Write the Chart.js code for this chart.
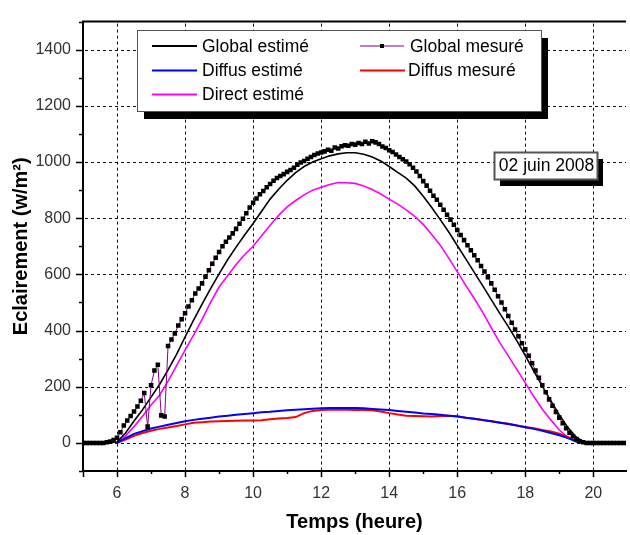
<!DOCTYPE html>
<html>
<head>
<meta charset="utf-8">
<script src="https://cdn.jsdelivr.net/npm/chart.js@4/dist/chart.umd.min.js"></script>
<style>
  html, body { margin: 0; padding: 0; background: #fff; }
  #wrap { width: 630px; height: 535px; }
</style>
</head>
<body>
<div id="wrap"><canvas id="chart" width="630" height="535"></canvas></div>
<script>
// heures des séries estimées (et du diffus mesuré)
const estT = [5, 5.5,
  6, 6.25, 6.5, 6.75, 7, 7.25, 7.5, 7.75, 8, 8.25, 8.5, 8.75,
  9, 9.25, 9.5, 9.75, 10, 10.25, 10.5, 10.75, 11, 11.25, 11.5, 11.75,
  12, 12.25, 12.5, 12.75, 13, 13.25, 13.5, 13.75, 14, 14.25, 14.5, 14.75,
  15, 15.25, 15.5, 15.75, 16, 16.25, 16.5, 16.75, 17, 17.25, 17.5, 17.75,
  18, 18.25, 18.5, 18.75, 19, 19.25, 19.5, 19.75, 20, 21];

const globalEstime = [0, 0,
  3, 35, 78, 118, 163, 208, 260, 315, 377, 437, 494, 549,
  602, 652, 697, 740, 781, 825, 868, 903, 935, 962, 984, 1000,
  1012, 1022, 1029, 1033, 1033, 1028, 1018, 1004, 984, 963, 943, 915,
  878, 838, 795, 751, 703, 655, 607, 559, 510, 461, 414, 364,
  311, 256, 202, 150, 100, 55, 20, 2, 0, 0];

const directEstime = [null, null,
  0, 25, 58, 95, 135, 170, 220, 275, 330, 384, 440, 500,
  555, 595, 635, 670, 700, 738, 775, 810, 840, 863, 883, 900,
  910, 920, 927, 926, 924, 915, 902, 886, 868, 850, 830, 807,
  778, 742, 704, 658, 610, 561, 514, 465, 410, 357, 310, 262,
  214, 165, 120, 82, 46, 20, 3, 0, null, null];

const diffusEstime = [null, null,
  0, 17, 32, 42, 51, 58, 65, 71, 77, 82, 86, 90,
  94, 97, 100, 103, 106, 109, 111, 114, 116, 118, 120, 122,
  123, 124, 124, 124, 124, 123, 121, 119, 117, 114, 111, 108,
  105, 103, 100, 97, 94, 90, 86, 82, 77, 72, 67, 62,
  56, 50, 43, 35, 27, 17, 5, 0, null, null];

const diffusMesure = [null, null,
  0, 12, 25, 35, 43, 50, 55, 60, 66, 72, 74, 76,
  77, 78, 79, 80, 80, 81, 84, 87, 89, 92, 106, 114,
  117, 118, 118, 118, 117, 117, 116, 112, 106, 101, 97, 96,
  95, 94, 96, 97, 95, 90, 86, 81, 77, 73, 68, 62,
  57, 52, 46, 41, 33, 21, 6, 0, null, null];

// heures des mesures du global (pas de 6 min)
const mesT = [
  5.0, 5.1, 5.2, 5.3, 5.4, 5.5, 5.6, 5.7, 5.8, 5.9,
  6.0, 6.1, 6.2, 6.3, 6.4, 6.5, 6.6, 6.7, 6.8, 6.9,
  7.0, 7.1, 7.2, 7.3, 7.4, 7.5, 7.6, 7.7, 7.8, 7.9,
  8.0, 8.1, 8.2, 8.3, 8.4, 8.5, 8.6, 8.7, 8.8, 8.9,
  9.0, 9.1, 9.2, 9.3, 9.4, 9.5, 9.6, 9.7, 9.8, 9.9,
  10.0, 10.1, 10.2, 10.3, 10.4, 10.5, 10.6, 10.7, 10.8, 10.9,
  11.0, 11.1, 11.2, 11.3, 11.4, 11.5, 11.6, 11.7, 11.8, 11.9,
  12.0, 12.1, 12.2, 12.3, 12.4, 12.5, 12.6, 12.7, 12.8, 12.9,
  13.0, 13.1, 13.2, 13.3, 13.4, 13.5, 13.6, 13.7, 13.8, 13.9,
  14.0, 14.1, 14.2, 14.3, 14.4, 14.5, 14.6, 14.7, 14.8, 14.9,
  15.0, 15.1, 15.2, 15.3, 15.4, 15.5, 15.6, 15.7, 15.8, 15.9,
  16.0, 16.1, 16.2, 16.3, 16.4, 16.5, 16.6, 16.7, 16.8, 16.9,
  17.0, 17.1, 17.2, 17.3, 17.4, 17.5, 17.6, 17.7, 17.8, 17.9,
  18.0, 18.1, 18.2, 18.3, 18.4, 18.5, 18.6, 18.7, 18.8, 18.9,
  19.0, 19.1, 19.2, 19.3, 19.4, 19.5, 19.6, 19.7, 19.8, 19.9,
  20.0, 20.1, 20.2, 20.3, 20.4, 20.5, 20.6, 20.7, 20.8, 20.9, 21.0];

const globalMesure = [
  0, 0, 0, 0, 0, 0, 0, 2, 5, 10,
  18, 38, 62, 80, 96, 112, 130, 150, 178, 58,
  205, 258, 278, 98, 94, 345, 368, 390, 418, 440,
  462, 486, 508, 532, 550, 568, 592, 615, 638, 659,
  680, 700, 716, 731, 746, 762, 780, 798, 818, 838,
  855, 870, 885, 897, 910, 922, 933, 943, 950, 957,
  965, 972, 980, 990, 998, 1004, 1012, 1018, 1025, 1030,
  1034, 1038, 1044, 1040, 1052, 1048, 1056, 1060, 1058, 1064,
  1062, 1068, 1064, 1072, 1066, 1074, 1070, 1064, 1055, 1050,
  1042, 1036, 1027, 1018, 1010, 1002, 992, 980, 966, 950,
  932, 916, 898, 880, 866, 848, 830, 812, 795, 777,
  758, 740, 722, 704, 686, 668, 650, 630, 610, 590,
  568, 545, 522, 500, 476, 452, 428, 404, 380, 355,
  333, 310, 284, 258, 232, 205, 180, 155, 132, 110,
  90, 70, 52, 36, 24, 14, 6, 2, 0, 0,
  0, 0, 0, 0, 0, 0, 0, 0, 0, 0, 0];

const xTicksLabelled = [6, 8, 10, 12, 14, 16, 18, 20];
const yTicksLabelled = [0, 200, 400, 600, 800, 1000, 1200, 1400];

const FONT = '"Liberation Sans", Arial, sans-serif';

function pts(xs, ys) {
  return xs.map((t, i) => ({ x: t, y: ys[i] }));
}

// grille pointillée sous les courbes, tirets posés un par un
const dashedGrid = {
  id: 'dashedGrid',
  beforeDatasetsDraw(chart) {
    const { ctx, chartArea: a, scales: { x, y } } = chart;
    ctx.save();
    ctx.fillStyle = '#111';
    xTicksLabelled.forEach(v => {
      const px = Math.round(x.getPixelForValue(v));
      for (let py = a.top + 2; py < a.bottom; py += 6) {
        ctx.fillRect(px, py, 1, Math.min(3, a.bottom - py));
      }
    });
    yTicksLabelled.forEach(v => {
      const py = Math.round(y.getPixelForValue(v));
      for (let px = a.left + 2; px < a.right; px += 6) {
        ctx.fillRect(px, py, Math.min(3, a.right - px), 1);
      }
    });
    ctx.restore();
  }
};

// légende encadrée, cadre supérieur, petites graduations, étiquette de date
const decor = {
  id: 'decor',
  afterDraw(chart) {
    const { ctx, chartArea: a, scales: { x, y } } = chart;
    ctx.save();

    // trait du haut du cadre
    ctx.strokeStyle = '#000';
    ctx.lineWidth = 2;
    ctx.beginPath();
    ctx.moveTo(a.left - 1, a.top);
    ctx.lineTo(a.right, a.top);
    ctx.stroke();

    // graduations majeures / mineures
    ctx.lineWidth = 1.5;
    ctx.beginPath();
    x.ticks.forEach(t => {
      const px = Math.round(x.getPixelForValue(t.value)) + 0.5;
      const len = xTicksLabelled.includes(t.value) || t.value === 5 ? 6 : 3;
      ctx.moveTo(px, a.bottom);
      ctx.lineTo(px, a.bottom + len);
    });
    y.ticks.forEach(t => {
      const py = Math.round(y.getPixelForValue(t.value)) + 0.5;
      const len = yTicksLabelled.includes(t.value) ? 7 : 4;
      ctx.moveTo(a.left, py);
      ctx.lineTo(a.left - len, py);
    });
    ctx.stroke();

    // légende
    const lx = 137, ly = 30, lw = 404, lh = 81;
    ctx.fillStyle = '#000';
    ctx.fillRect(lx + 7, ly + 8, lw, lh);
    ctx.fillStyle = '#fff';
    ctx.fillRect(lx, ly, lw, lh);
    ctx.strokeStyle = '#555';
    ctx.lineWidth = 1;
    ctx.strokeRect(lx + 0.5, ly + 0.5, lw, lh);

    ctx.font = '17.5px ' + FONT;
    ctx.textBaseline = 'middle';
    ctx.textAlign = 'left';
    chart.data.datasets.forEach(ds => {
      const e = ds.legendPos;
      ctx.strokeStyle = ds.borderColor;
      ctx.lineWidth = ds.legendWidth;
      ctx.beginPath();
      ctx.moveTo(e.x0, e.y);
      ctx.lineTo(e.x1, e.y);
      ctx.stroke();
      if (ds.pointRadius > 0) {
        ctx.fillStyle = '#000';
        ctx.fillRect((e.x0 + e.x1) / 2 - 2, e.y - 2, 4, 4);
      }
      ctx.fillStyle = '#000';
      ctx.fillText(ds.label, e.tx, e.y + 1);
    });

    // étiquette de date
    const bx = 494, by = 152, bw = 103, bh = 27;
    ctx.fillStyle = '#000';
    ctx.fillRect(bx + 6, by + 7, bw, bh);
    ctx.fillStyle = '#fff';
    ctx.fillRect(bx, by, bw, bh);
    ctx.strokeStyle = '#555';
    ctx.strokeRect(bx + 0.5, by + 0.5, bw, bh);
    ctx.fillStyle = '#000';
    ctx.textAlign = 'center';
    ctx.fillText('02 juin 2008', bx + bw / 2 + 1, by + bh / 2 + 1);

    ctx.restore();
  }
};

const ctx = document.getElementById('chart').getContext('2d');
new Chart(ctx, {
  type: 'line',
  data: {
    datasets: [
      {
        label: 'Global mesuré',
        data: pts(mesT, globalMesure),
        borderColor: '#800080',
        borderWidth: 1,
        pointStyle: 'rect',
        pointRadius: 3.2,
        pointBorderWidth: 0,
        pointBackgroundColor: '#000',
        order: 0,
        legendPos: { x0: 360, x1: 404, tx: 410, y: 46 },
        legendWidth: 1
      },
      {
        label: 'Global estimé',
        data: pts(estT, globalEstime),
        borderColor: '#000',
        borderWidth: 1.6,
        pointRadius: 0,
        order: 1,
        legendPos: { x0: 152, x1: 197, tx: 202, y: 46 },
        legendWidth: 2
      },
      {
        label: 'Diffus estimé',
        data: pts(estT, diffusEstime),
        borderColor: '#0000ff',
        borderWidth: 2,
        pointRadius: 0,
        order: 2,
        legendPos: { x0: 152, x1: 197, tx: 202, y: 70.5 },
        legendWidth: 2
      },
      {
        label: 'Diffus mesuré',
        data: pts(estT, diffusMesure),
        borderColor: '#ff0000',
        borderWidth: 2,
        pointRadius: 0,
        order: 3,
        legendPos: { x0: 360, x1: 405, tx: 408, y: 70.5 },
        legendWidth: 2
      },
      {
        label: 'Direct estimé',
        data: pts(estT, directEstime),
        borderColor: '#ff00ff',
        borderWidth: 1.6,
        pointRadius: 0,
        order: 4,
        legendPos: { x0: 152, x1: 197, tx: 202, y: 94.5 },
        legendWidth: 2
      }
    ]
  },
  options: {
    responsive: false,
    animation: false,
    devicePixelRatio: 1,
    layout: { padding: { top: 15, left: 0, right: 0, bottom: 0 } },
    plugins: {
      legend: { display: false },
      tooltip: { enabled: false }
    },
    elements: { line: { tension: 0 } },
    scales: {
      x: {
        type: 'linear',
        min: 5,
        max: 20.96,
        afterFit: s => { s.height = 64; },
        ticks: {
          stepSize: 1,
          includeBounds: false,
          autoSkip: false,
          maxRotation: 0,
          padding: 13,
          color: '#333',
          font: { family: FONT, size: 16 },
          callback: v => xTicksLabelled.includes(v) ? String(v) : ''
        },
        grid: { display: false, drawTicks: false },
        border: { display: true, color: '#000', width: 2 },
        title: {
          display: true,
          text: 'Temps (heure)',
          color: '#000',
          font: { family: FONT, size: 20, weight: 'bold' },
          padding: { top: 0, bottom: 1 }
        }
      },
      y: {
        min: -100,
        max: 1500,
        afterFit: s => { s.width = 83; },
        ticks: {
          stepSize: 100,
          includeBounds: false,
          autoSkip: false,
          padding: 12,
          color: '#333',
          font: { family: FONT, size: 16 },
          callback: v => yTicksLabelled.includes(v) ? String(v) : ''
        },
        grid: { display: false, drawTicks: false },
        border: { display: true, color: '#000', width: 2 },
        title: {
          display: true,
          text: 'Eclairement (w/m²)',
          color: '#000',
          font: { family: FONT, size: 20, weight: 'bold' },
          padding: { top: 9, bottom: 0 }
        }
      }
    }
  },
  plugins: [dashedGrid, decor]
});
</script>
</body>
</html>
